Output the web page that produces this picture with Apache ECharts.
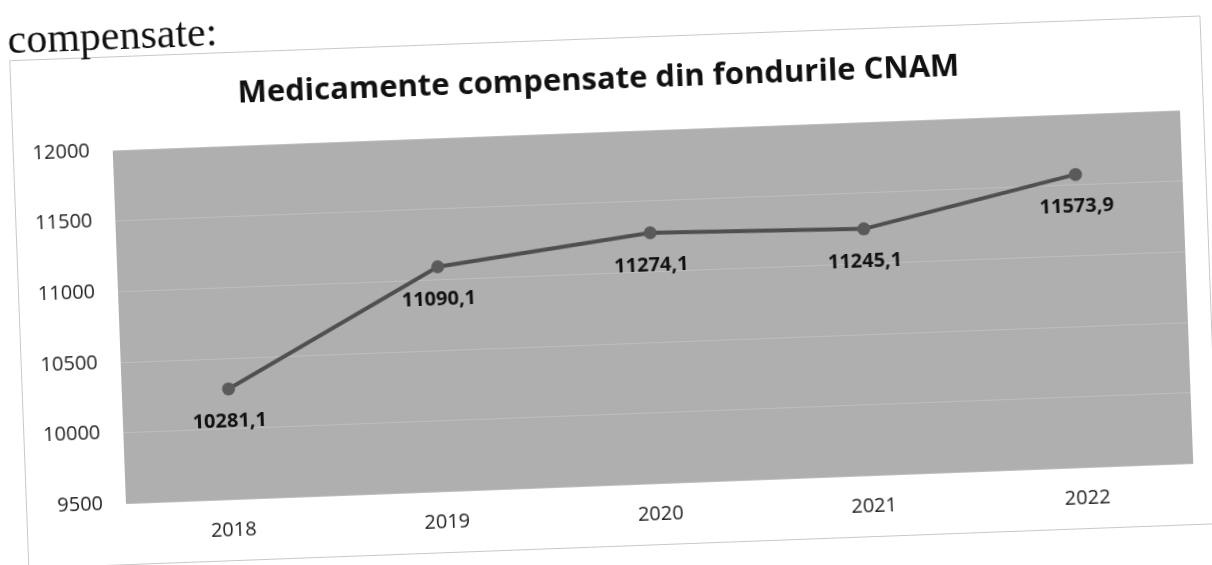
<!DOCTYPE html>
<html>
<head>
<meta charset="utf-8">
<script src="https://cdn.jsdelivr.net/npm/echarts@6/dist/echarts.min.js"></script>
<style>
  html, body { margin: 0; padding: 0; background: #ffffff; overflow: hidden; }
  #page { position: absolute; left: 0; top: 0; width: 1212px; height: 565px;
          transform: rotate(-2.15deg); transform-origin: 606px 282px; }
  #chart { position: absolute; left: 0; top: 0; width: 1212px; height: 565px; }
  #lead { position: absolute; left: 17px; top: -7px; font-family: "Liberation Serif", serif;
          font-size: 42px; line-height: 48px; color: #111; white-space: nowrap; }
</style>
</head>
<body>
<div id="page">
  <div id="chart"></div>
  <div id="lead">compensate:</div>
</div>
<script>
const titleText = 'Medicamente compensate din fondurile CNAM';
const categories = ['2018', '2019', '2020', '2021', '2022'];
const values = [10281.1, 11090.1, 11274.1, 11245.1, 11573.9];
const yTicks = [9500, 10000, 10500, 11000, 11500, 12000];

const chart = echarts.init(document.getElementById('chart'), null, { renderer: 'canvas' });
const font = '"Open Sans", "Noto Sans", sans-serif';
chart.setOption({
  animation: false,
  backgroundColor: 'transparent',
  graphic: [{
    type: 'rect', left: 18, top: 38, silent: true, z: -10,
    shape: { width: 1191, height: 508 },
    style: { fill: '#ffffff', stroke: '#c8c8c8', lineWidth: 1 }
  }],
  title: {
    text: titleText, left: 'center', top: 60,
    textStyle: { fontFamily: font, fontSize: 31, fontWeight: 'bold', color: '#111' }
  },
  grid: { left: 118, right: 26, top: 132, bottom: 80, show: true,
          backgroundColor: '#afafaf', borderWidth: 0 },
  xAxis: {
    type: 'category', data: categories, boundaryGap: true,
    axisLine: { show: false }, axisTick: { show: false },
    axisLabel: { fontFamily: font, fontSize: 20, color: '#222', margin: 21 }
  },
  yAxis: {
    type: 'value', min: yTicks[0], max: yTicks[yTicks.length - 1], interval: 500,
    axisLine: { show: false }, axisTick: { show: false },
    axisLabel: { fontFamily: font, fontSize: 20, color: '#222', margin: 23,
                 formatter: v => String(v) },
    splitLine: { show: true, lineStyle: { color: '#bebebe', width: 1 } }
  },
  series: [{
    type: 'line', data: values,
    symbol: 'circle', symbolSize: 13,
    lineStyle: { color: '#4f4f4f', width: 4 },
    itemStyle: { color: '#5a5a5a' },
    label: {
      show: true, position: 'bottom', distance: 16,
      fontFamily: font, fontSize: 20, fontWeight: 'bold', color: '#111',
      formatter: p => String(p.value).replace('.', ',')
    }
  }]
});
</script>
</body>
</html>
